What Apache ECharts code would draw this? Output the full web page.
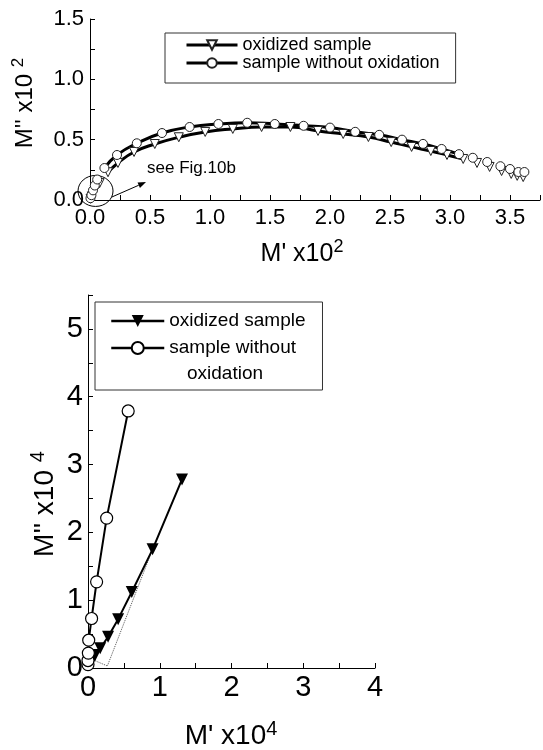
<!DOCTYPE html>
<html>
<head>
<meta charset="utf-8">
<script src="https://cdn.jsdelivr.net/npm/echarts@6/dist/echarts.min.js"></script>
<style>
  html, body { margin: 0; padding: 0; background: #fff; }
  #chart { width: 543px; height: 750px; }
</style>
</head>
<body>
<div id="chart"></div>
<script>
// ---- data (upper plot: M' x10^2 / M'' x10^2) ----
const topOxX = [0.005, 0.015, 0.03, 0.05, 0.08, 0.15, 0.233, 0.367, 0.54, 0.74, 0.96, 1.19, 1.43, 1.67, 1.90, 2.11, 2.32, 2.51, 2.68, 2.84, 2.975, 3.11, 3.225, 3.33, 3.43, 3.51, 3.56, 3.61];
const topOxY = [0.01, 0.03, 0.06, 0.10, 0.14, 0.23, 0.307, 0.398, 0.464, 0.52, 0.564, 0.589, 0.605, 0.605, 0.572, 0.547, 0.522, 0.48, 0.44, 0.406, 0.373, 0.34, 0.307, 0.274, 0.24, 0.216, 0.20, 0.19];
const topNoX = [0.004, 0.012, 0.025, 0.04, 0.06, 0.12, 0.225, 0.39, 0.60, 0.83, 1.07, 1.31, 1.54, 1.78, 2.00, 2.21, 2.41, 2.60, 2.775, 2.93, 3.075, 3.19, 3.31, 3.42, 3.50, 3.57, 3.62];
const topNoY = [0.015, 0.04, 0.08, 0.12, 0.17, 0.265, 0.373, 0.47, 0.555, 0.605, 0.63, 0.64, 0.63, 0.615, 0.60, 0.565, 0.54, 0.50, 0.465, 0.423, 0.38, 0.35, 0.315, 0.28, 0.257, 0.232, 0.232];
// range covered by the thick fitted curves
const topOxFit = [0.14, 3.12];
const topNoFit = [0.11, 3.08];

// ---- data (lower plot, Fig.10b: M' x10^4 / M'' x10^4) ----
const botOxX = [0.02, 0.05, 0.10, 0.17, 0.28, 0.42, 0.61, 0.90, 1.31];
const botOxY = [0.04, 0.11, 0.19, 0.29, 0.46, 0.72, 1.12, 1.75, 2.78];
const botNoX = [0.0, 0.0, 0.005, 0.01, 0.05, 0.12, 0.26, 0.56];
const botNoY = [0.05, 0.11, 0.22, 0.41, 0.73, 1.27, 2.21, 3.79];
const botDotX = [0.07, 0.27, 0.90];
const botDotY = [0.12, 0.03, 1.75];

const FONT = "'Liberation Sans', Arial, sans-serif";

const pairs = (xs, ys) => xs.map((x, i) => [x, ys[i]]);
const within = (pts, r) => pts.filter(p => p[0] >= r[0] && p[0] <= r[1]);
const half = v => Math.abs(v * 2 - Math.round(v * 2)) < 1e-6 ? v.toFixed(1) : '';
const whole = v => Math.abs(v - Math.round(v)) < 1e-6 ? String(Math.round(v)) : '';

function valueAxis(gridIndex, min, max, interval, fmt, fontSize, margin) {
  return {
    type: 'value', gridIndex, min, max, interval,
    axisLine: { show: true, onZero: false, lineStyle: { color: '#000', width: 1 } },
    axisTick: { show: true, inside: true, length: 5, lineStyle: { color: '#000', width: 1 } },
    splitLine: { show: false },
    axisLabel: { color: '#000', fontFamily: FONT, fontSize, margin, formatter: fmt }
  };
}

const chart = echarts.init(document.getElementById('chart'));

const option = {
  animation: false,
  backgroundColor: '#fff',
  grid: [
    { left: 90, top: 19, width: 450, height: 181 },
    { left: 88, top: 295, width: 287, height: 373 }
  ],
  xAxis: [
    valueAxis(0, 0, 3.75, 0.25, half, 22, 7),
    valueAxis(1, 0, 4, 0.5, whole, 29, 5)
  ],
  yAxis: [
    valueAxis(0, 0, 1.5, 0.25, half, 22, 6),
    valueAxis(1, 0, 5.5, 0.5, whole, 29, 5)
  ],
  legend: [
    {
      left: 165, top: 33, orient: 'vertical', selectedMode: false,
      data: ['oxidized sample', 'sample without oxidation'],
      itemWidth: 51, itemHeight: 12, itemGap: 0,
      padding: [3, 16, 11, 20],
      borderColor: '#333', borderWidth: 1,
      textStyle: { fontFamily: FONT, fontSize: 18, lineHeight: 18, color: '#000' },
      lineStyle: { color: '#000', width: 3, opacity: 1 }
    },
    {
      left: 95, top: 302, orient: 'vertical', selectedMode: false,
      data: ['oxidized sample (b)', 'sample without oxidation (b)'],
      formatter: n => n.indexOf('oxidized') === 0 ? 'oxidized sample' : 'sample without',
      itemWidth: 53, itemHeight: 15, itemGap: 8,
      padding: [9.5, 17, 32.5, 15],
      borderColor: '#333', borderWidth: 1,
      textStyle: { fontFamily: FONT, fontSize: 19, lineHeight: 19, color: '#000' },
      lineStyle: { color: '#000', width: 2.5, opacity: 1 }
    }
  ],
  series: [
    {
      type: 'line', xAxisIndex: 0, yAxisIndex: 0, silent: true,
      data: within(pairs(topOxX, topOxY), topOxFit),
      smooth: 0.5, symbol: 'none', z: 2,
      lineStyle: { color: '#000', width: 3 }
    },
    {
      type: 'line', xAxisIndex: 0, yAxisIndex: 0, silent: true,
      data: within(pairs(topNoX, topNoY), topNoFit),
      smooth: 0.5, symbol: 'none', z: 2,
      lineStyle: { color: '#000', width: 3 }
    },
    {
      name: 'oxidized sample', type: 'line', xAxisIndex: 0, yAxisIndex: 0,
      data: pairs(topOxX, topOxY), clip: false, z: 3,
      symbol: 'triangle', symbolRotate: 180, symbolSize: 9,
      itemStyle: { color: '#fff', borderColor: '#222', borderWidth: 1 },
      lineStyle: { opacity: 0 }
    },
    {
      name: 'sample without oxidation', type: 'line', xAxisIndex: 0, yAxisIndex: 0,
      data: pairs(topNoX, topNoY), clip: false, z: 3,
      symbol: 'circle', symbolSize: 9,
      itemStyle: { color: '#fff', borderColor: '#222', borderWidth: 1 },
      lineStyle: { opacity: 0 }
    },
    {
      type: 'line', xAxisIndex: 1, yAxisIndex: 1, silent: true,
      data: pairs(botDotX, botDotY), symbol: 'none', z: 1,
      lineStyle: { color: '#555', width: 1, type: 'dotted' }
    },
    {
      name: 'oxidized sample (b)', type: 'line', xAxisIndex: 1, yAxisIndex: 1,
      data: pairs(botOxX, botOxY), clip: false, z: 3,
      symbol: 'triangle', symbolRotate: 180, symbolSize: 12,
      itemStyle: { color: '#000' },
      lineStyle: { color: '#000', width: 2 }
    },
    {
      name: 'sample without oxidation (b)', type: 'line', xAxisIndex: 1, yAxisIndex: 1,
      data: pairs(botNoX, botNoY), clip: false, z: 3,
      symbol: 'circle', symbolSize: 12,
      itemStyle: { color: '#fff', borderColor: '#000', borderWidth: 1.2 },
      lineStyle: { color: '#000', width: 2 }
    }
  ]
};

chart.setOption(option);

// annotations: circled origin region with arrow pointing at the note
const px = p => chart.convertToPixel({ gridIndex: 0 }, p);
const ringC = px([0.046, 0.075]);
const a0 = px([0.183, 0.025]);
const a1 = px([0.467, 0.149]);
const note = px([0.475, 0.265]);
const dx = a1[0] - a0[0], dy = a1[1] - a0[1];
const len = Math.hypot(dx, dy), ux = dx / len, uy = dy / len;
const bx = a1[0] - ux * 8, by = a1[1] - uy * 8;

function axisTitle(x, y, main, sup, size, supSize, rotated) {
  return {
    type: 'text', x, y, rotation: rotated ? Math.PI / 2 : 0, silent: true,
    style: {
      text: '{m|' + main + '}{s|' + sup + '}',
      align: 'center', verticalAlign: 'middle', fill: '#000',
      rich: {
        m: { fontFamily: FONT, fontSize: size, lineHeight: size + 6, fill: '#000' },
        s: { fontFamily: FONT, fontSize: supSize, lineHeight: supSize, verticalAlign: 'top', fill: '#000' }
      }
    }
  };
}

chart.setOption({
  graphic: [
    { type: 'ellipse', silent: true, shape: { cx: ringC[0], cy: ringC[1], rx: 17.5, ry: 15.5 },
      style: { fill: 'none', stroke: '#000', lineWidth: 1 } },
    { type: 'line', silent: true, shape: { x1: a0[0], y1: a0[1], x2: bx, y2: by },
      style: { stroke: '#000', lineWidth: 1 } },
    { type: 'polygon', silent: true,
      shape: { points: [[a1[0], a1[1]], [bx - uy * 3, by + ux * 3], [bx + uy * 3, by - ux * 3]] },
      style: { fill: '#000' } },
    { type: 'text', x: note[0], y: note[1], silent: true,
      style: { text: 'see Fig.10b', fontFamily: FONT, fontSize: 17, fill: '#000', verticalAlign: 'middle' } },
    { type: 'text', x: 187, y: 374, silent: true,
      style: { text: 'oxidation', fontFamily: FONT, fontSize: 19, fill: '#000', verticalAlign: 'middle' } },
    axisTitle(25, 103, "M'' x10 ", '2', 24, 17, true),
    axisTitle(302, 254, "M' x10", '2', 25, 18, false),
    axisTitle(45, 504, "M'' x10 ", '4', 28, 20, true),
    axisTitle(231, 736, "M' x10", '4', 28, 20, false)
  ]
});
</script>
</body>
</html>
